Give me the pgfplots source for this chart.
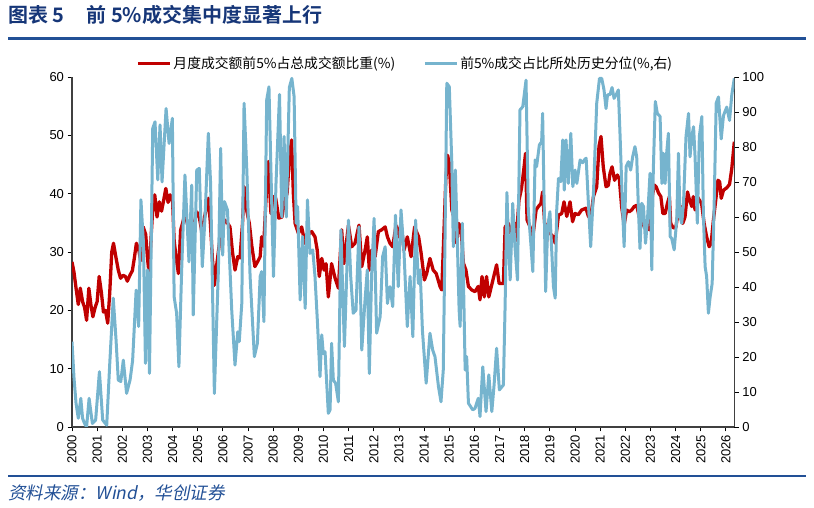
\documentclass[border=0pt]{standalone}
\usepackage{pgfplots}
\pgfplotsset{compat=1.18}
\usepackage{fontspec}
\setmainfont{Liberation Sans}
\newfontfamily\cjk{Noto Sans CJK SC}[BoldFont={Noto Sans CJK SC Bold}]
\newfontfamily\cjksl{Noto Sans CJK SC}[FakeSlant=0.2]

\definecolor{redS}{RGB}{192,0,0}
\definecolor{blueS}{RGB}{118,180,206}
\definecolor{navy}{RGB}{22,54,120}
\definecolor{ruleblue}{RGB}{34,80,150}

\pgfplotstableread{
x y
2000.00 28.3
2000.08 26.5
2000.17 23.5
2000.25 21.0
2000.33 23.8
2000.42 21.5
2000.50 20.5
2000.58 18.3
2000.67 23.8
2000.75 21.0
2000.83 18.9
2000.92 20.5
2001.00 21.5
2001.08 25.8
2001.17 23.0
2001.25 19.7
2001.33 20.0
2001.42 17.8
2001.50 23.0
2001.58 30.0
2001.65 31.5
2001.75 29.0
2001.84 26.9
2001.93 25.5
2002.03 26.0
2002.12 25.8
2002.20 25.0
2002.30 26.0
2002.40 26.8
2002.48 29.0
2002.56 31.5
2002.65 30.5
2002.73 28.5
2002.83 34.3
2002.93 33.0
2003.00 29.0
2003.07 26.0
2003.15 33.0
2003.22 38.0
2003.29 39.8
2003.38 36.0
2003.47 38.6
2003.56 37.0
2003.65 39.0
2003.73 40.9
2003.82 38.5
2003.90 39.8
2004.00 38.6
2004.06 32.0
2004.14 29.0
2004.23 26.3
2004.32 33.8
2004.40 35.0
2004.49 36.6
2004.62 34.3
2004.72 35.0
2004.84 34.5
2004.96 36.9
2005.06 36.0
2005.17 33.2
2005.27 36.0
2005.42 39.2
2005.50 35.0
2005.58 29.0
2005.66 24.3
2005.76 28.0
2005.86 31.5
2005.97 33.5
2006.06 35.5
2006.18 35.0
2006.28 34.3
2006.38 30.0
2006.48 26.9
2006.59 29.2
2006.68 29.0
2006.78 35.0
2006.84 41.2
2006.95 37.0
2007.05 34.9
2007.15 31.0
2007.27 27.5
2007.40 28.5
2007.48 29.2
2007.54 32.6
2007.62 31.0
2007.70 38.0
2007.80 45.5
2007.91 36.6
2008.01 39.5
2008.10 39.2
2008.22 35.8
2008.35 36.0
2008.45 38.9
2008.55 40.0
2008.64 46.0
2008.73 49.2
2008.80 40.0
2008.87 34.9
2009.00 33.2
2009.13 34.3
2009.26 31.5
2009.40 33.0
2009.53 33.5
2009.66 32.6
2009.75 30.3
2009.83 25.8
2009.93 28.9
2010.02 26.9
2010.10 28.0
2010.19 22.3
2010.32 28.0
2010.46 25.5
2010.59 23.8
2010.72 33.8
2010.81 28.0
2010.99 34.6
2011.12 30.9
2011.25 31.5
2011.41 34.6
2011.52 27.5
2011.65 30.3
2011.74 32.6
2011.82 26.9
2011.91 30.3
2012.05 29.2
2012.18 33.5
2012.31 33.8
2012.45 34.3
2012.54 32.6
2012.64 31.5
2012.75 30.9
2012.88 34.6
2012.97 32.6
2013.08 34.9
2013.20 30.3
2013.33 32.6
2013.48 29.2
2013.62 34.3
2013.78 32.6
2013.88 29.8
2014.01 25.2
2014.10 26.3
2014.23 28.9
2014.36 26.9
2014.48 26.3
2014.63 24.1
2014.70 23.5
2014.79 33.8
2014.86 42.3
2014.93 46.6
2015.00 45.2
2015.10 37.2
2015.18 36.0
2015.29 31.5
2015.38 34.9
2015.47 33.8
2015.56 28.1
2015.66 26.9
2015.76 24.1
2015.89 23.5
2016.02 23.2
2016.15 24.1
2016.22 21.8
2016.30 25.8
2016.39 22.3
2016.48 25.8
2016.57 22.3
2016.70 24.6
2016.88 27.8
2016.98 24.6
2017.08 24.6
2017.15 24.6
2017.22 34.3
2017.35 34.9
2017.44 33.2
2017.52 34.5
2017.60 34.9
2017.66 32.0
2017.77 38.9
2017.87 40.9
2017.96 44.1
2018.03 46.9
2018.09 35.5
2018.21 34.3
2018.32 32.6
2018.45 37.2
2018.54 37.8
2018.64 38.3
2018.71 40.3
2018.80 34.3
2018.87 31.8
2018.94 34.9
2019.00 33.2
2019.14 32.6
2019.21 31.5
2019.34 36.3
2019.47 36.6
2019.56 38.6
2019.67 36.1
2019.80 38.6
2019.90 35.2
2020.00 36.6
2020.13 36.4
2020.26 37.2
2020.43 37.5
2020.53 36.1
2020.62 35.8
2020.73 39.5
2020.86 41.2
2020.95 48.1
2021.03 49.8
2021.12 44.6
2021.23 41.2
2021.32 41.4
2021.39 43.5
2021.47 44.6
2021.57 42.3
2021.68 43.2
2021.76 42.5
2021.85 37.8
2021.95 34.6
2022.05 37.2
2022.15 36.9
2022.25 37.2
2022.35 37.8
2022.45 38.0
2022.55 36.0
2022.65 35.5
2022.75 34.3
2022.85 34.6
2022.95 33.8
2023.05 38.9
2023.14 41.5
2023.22 41.2
2023.32 40.1
2023.41 39.5
2023.49 36.6
2023.58 36.6
2023.67 38.3
2023.75 39.5
2023.80 34.9
2023.91 34.1
2024.01 34.3
2024.11 37.2
2024.20 37.8
2024.28 34.9
2024.37 36.0
2024.47 40.3
2024.55 38.9
2024.64 37.8
2024.70 39.5
2024.77 37.2
2024.86 39.5
2024.94 38.9
2025.03 38.3
2025.13 34.9
2025.23 32.6
2025.33 30.9
2025.41 31.5
2025.50 35.5
2025.60 39.2
2025.68 42.3
2025.75 42.0
2025.81 39.2
2025.90 40.6
2026.03 41.0
2026.14 41.6
2026.23 44.3
2026.33 48.9
}\sharetable

\pgfplotstableread{
x y
2000.00 24.4
2000.08 14.0
2000.16 6.8
2000.25 2.5
2000.35 8.2
2000.42 2.5
2000.50 1.0
2000.58 0.0
2000.68 8.2
2000.81 1.0
2000.94 2.0
2001.09 15.8
2001.22 2.0
2001.38 0.5
2001.50 18.0
2001.64 36.8
2001.75 25.0
2001.84 13.4
2001.94 13.0
2002.04 19.1
2002.17 9.6
2002.31 13.5
2002.41 19.0
2002.55 39.1
2002.65 28.7
2002.74 64.9
2002.84 52.5
2002.92 18.2
2003.00 44.9
2003.08 15.3
2003.21 85.3
2003.30 87.2
2003.41 70.6
2003.50 86.3
2003.58 70.0
2003.74 91.0
2003.86 81.0
2003.99 88.2
2004.06 37.2
2004.16 32.5
2004.25 17.2
2004.36 44.9
2004.49 72.0
2004.65 47.2
2004.76 69.1
2004.82 32.0
2004.96 73.4
2005.06 73.9
2005.18 45.8
2005.29 60.1
2005.42 83.9
2005.51 69.6
2005.66 9.6
2005.82 44.9
2005.91 79.6
2005.99 49.1
2006.06 64.4
2006.18 62.0
2006.35 33.4
2006.48 17.7
2006.59 27.2
2006.65 24.4
2006.75 35.3
2006.84 92.5
2006.95 73.4
2007.08 43.0
2007.25 20.1
2007.37 23.9
2007.48 43.0
2007.54 44.4
2007.63 30.1
2007.74 93.4
2007.83 97.2
2007.94 63.9
2008.01 43.0
2008.11 69.6
2008.25 95.0
2008.34 60.0
2008.43 83.0
2008.52 60.0
2008.64 97.0
2008.74 99.6
2008.83 94.4
2008.91 58.2
2008.97 63.0
2009.07 36.3
2009.17 54.4
2009.27 33.9
2009.36 64.9
2009.46 49.6
2009.57 50.6
2009.66 43.0
2009.76 29.6
2009.86 14.4
2009.93 26.3
2009.99 21.0
2010.06 21.5
2010.19 3.9
2010.26 4.9
2010.32 23.9
2010.39 13.4
2010.48 12.5
2010.59 7.2
2010.69 56.3
2010.83 23.0
2010.99 59.1
2011.08 43.0
2011.18 32.5
2011.29 33.4
2011.41 57.2
2011.52 22.0
2011.65 36.3
2011.74 44.9
2011.82 15.3
2011.91 43.0
2012.01 59.6
2012.11 26.8
2012.25 31.5
2012.35 48.7
2012.45 51.5
2012.54 35.3
2012.64 40.1
2012.75 34.4
2012.86 60.5
2012.97 40.1
2013.08 62.0
2013.20 49.6
2013.33 28.7
2013.44 43.0
2013.55 25.8
2013.66 59.1
2013.77 41.0
2013.84 44.9
2013.93 27.7
2014.08 12.5
2014.23 26.8
2014.34 22.0
2014.43 20.1
2014.57 11.5
2014.67 7.2
2014.76 16.3
2014.83 54.4
2014.90 98.2
2015.00 97.2
2015.10 75.3
2015.16 51.5
2015.24 73.4
2015.29 61.0
2015.39 33.4
2015.43 28.7
2015.52 58.2
2015.63 16.3
2015.69 20.1
2015.76 6.8
2015.93 4.9
2016.02 5.3
2016.15 8.2
2016.22 3.0
2016.33 17.2
2016.46 4.4
2016.57 14.9
2016.69 4.4
2016.78 12.0
2016.88 22.5
2016.99 10.6
2017.15 12.0
2017.22 35.3
2017.29 67.0
2017.35 53.4
2017.42 42.0
2017.52 63.9
2017.61 51.5
2017.71 42.0
2017.81 90.6
2017.92 91.5
2018.05 99.1
2018.14 62.0
2018.24 52.5
2018.32 44.4
2018.41 76.3
2018.47 74.4
2018.58 80.6
2018.67 81.5
2018.71 89.6
2018.77 63.9
2018.83 38.7
2018.91 57.2
2019.00 61.5
2019.07 50.6
2019.14 40.1
2019.21 36.8
2019.27 62.0
2019.34 71.0
2019.43 70.1
2019.51 82.0
2019.57 67.7
2019.64 82.0
2019.73 69.6
2019.83 83.9
2019.91 68.7
2020.00 73.4
2020.07 69.6
2020.20 76.3
2020.30 75.5
2020.37 76.3
2020.44 76.8
2020.53 63.9
2020.62 51.5
2020.73 66.8
2020.86 92.5
2020.97 99.6
2021.06 99.6
2021.15 96.3
2021.23 91.0
2021.29 94.9
2021.39 95.0
2021.47 97.0
2021.55 93.9
2021.63 94.9
2021.72 96.3
2021.79 83.0
2021.88 63.9
2021.95 51.5
2022.03 74.4
2022.12 75.8
2022.21 73.4
2022.29 77.2
2022.38 80.1
2022.45 77.2
2022.52 62.0
2022.58 51.0
2022.65 63.9
2022.72 63.0
2022.80 52.5
2022.87 58.2
2022.98 72.5
2023.05 44.9
2023.11 73.4
2023.19 93.0
2023.27 89.6
2023.38 88.7
2023.45 69.6
2023.51 78.2
2023.58 69.6
2023.64 78.2
2023.71 83.9
2023.78 54.4
2023.84 53.9
2023.94 50.6
2024.04 59.1
2024.11 78.2
2024.17 60.1
2024.24 58.2
2024.31 63.9
2024.41 83.0
2024.51 89.6
2024.57 77.2
2024.64 83.0
2024.71 85.8
2024.77 77.2
2024.86 58.2
2024.94 83.0
2025.04 88.7
2025.10 61.0
2025.17 45.8
2025.23 43.0
2025.30 32.5
2025.37 37.2
2025.45 41.0
2025.53 63.9
2025.61 92.5
2025.70 94.3
2025.81 82.3
2025.90 89.0
2026.03 91.4
2026.14 87.6
2026.23 94.9
2026.33 99.6
}\pctltable

\begin{document}
\begin{tikzpicture}[x=1pt,y=1pt]
\useasboundingbox (0,0) rectangle (814,508);

% title and rules
\node[anchor=west, text=navy, inner sep=0pt, font=\cjk\bfseries\fontsize{20}{20}\selectfont]
  at (8,493) {图表 5\hspace{22pt}前 5\%成交集中度显著上行};
\draw[ruleblue, line width=2.2pt] (8,469.5) -- (806,469.5);
\draw[ruleblue, line width=2.2pt] (8,32) -- (806,32);
\node[anchor=west, text=ruleblue, inner sep=0pt, font=\cjksl\fontsize{17.5}{18}\selectfont]
  at (8,15) {资料来源：Wind，华创证券};

\pgfplotsset{
  base/.style={
    at={(72pt,81pt)}, anchor=south west,
    scale only axis, width=662.3pt, height=350pt,
    xmin=2000, xmax=2026.33,
    tick align=outside, major tick length=4.5pt,
    tick style={black, line width=0.9pt},
    axis line style={black!75, line width=1.2pt},
    ticklabel style={font=\fontsize{13}{13}\selectfont},
    /pgf/number format/assume math mode=true,
    /pgf/number format/1000 sep={},
  }
}

\begin{axis}[base,
  ymin=0, ymax=60, ytick={0,10,...,60},
  axis x line*=bottom, axis y line*=left,
  xtick={2000,...,2026},
  xticklabel style={rotate=90, anchor=east},
  legend columns=2,
  legend style={at={(0.503,1.0386)}, anchor=center, draw=none, fill=none,
    font=\cjk\fontsize{13.8}{14}\selectfont,
    /tikz/every even column/.append style={column sep=26pt}},
  legend image code/.code={\draw[#1] (0pt,0pt) -- (32pt,0pt);},
]
\addplot[redS, line width=3.3pt, line join=round] table {\sharetable};
\addlegendentry{月度成交额前5\%占总成交额比重(\%)}
\addlegendimage{blueS, line width=3pt}
\addlegendentry{前5\%成交占比所处历史分位(\%,右)}
\end{axis}

\begin{axis}[base,
  ymin=0, ymax=100, ytick={0,10,...,100},
  axis y line*=right, axis x line=none,
]
\addplot[blueS, line width=3pt, line join=round] table {\pctltable};
\end{axis}
\end{tikzpicture}
\end{document}
